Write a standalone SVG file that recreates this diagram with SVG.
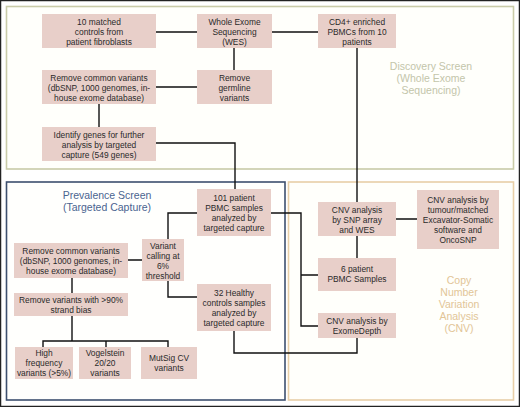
<svg xmlns="http://www.w3.org/2000/svg" width="520" height="407" viewBox="0 0 520 407">
<style>
.box{fill:#e8cfc9}
.t{font-family:"Liberation Sans",Arial,sans-serif;font-size:8.4px;fill:#2a2a2a;text-anchor:middle}
.c{fill:none;stroke:#111;stroke-width:1.4}
.ttl{font-family:"Liberation Sans",Arial,sans-serif;font-size:10.5px;text-anchor:middle}
</style>
<rect x="0.5" y="0.5" width="519" height="406" fill="#fff" stroke="#222" stroke-width="1.5"/>
<g id="panel-discovery">
<rect x="6.5" y="6.5" width="507" height="162.5" fill="#fffffb" stroke="#c9cba8" stroke-width="1.6"/>
<text class="ttl" fill="#c3c5aa" x="431" y="70">Discovery Screen</text>
<text class="ttl" fill="#c3c5aa" x="431" y="82">(Whole Exome</text>
<text class="ttl" fill="#c3c5aa" x="431" y="94">Sequencing)</text>
</g>
<g id="panel-prevalence">
<rect x="6.5" y="182" width="278.5" height="218" fill="#fffffd" stroke="#3d4f6e" stroke-width="1.6"/>
<text class="ttl" fill="#4a6490" x="107" y="199">Prevalence Screen</text>
<text class="ttl" fill="#4a6490" x="107" y="211">(Targeted Capture)</text>
</g>
<g id="panel-cnv">
<rect x="288.5" y="182" width="225" height="218" fill="#fffffb" stroke="#e8cfa8" stroke-width="1.6"/>
<text class="ttl" fill="#e2c597" x="459" y="284">Copy</text>
<text class="ttl" fill="#e2c597" x="459" y="296">Number</text>
<text class="ttl" fill="#e2c597" x="459" y="308">Variation</text>
<text class="ttl" fill="#e2c597" x="459" y="320">Analysis</text>
<text class="ttl" fill="#e2c597" x="459" y="332">(CNV)</text>
</g>
<g id="connectors">
<path class="c" d="M156 32H197M272 32H318M234 48V70M156 87H197M99 104V127M156 143H235V189M357 48V202M396 219H417M357 236V258"/>
<path class="c" d="M197 213H168V239M168 281V297H197M128 260H142M72 278V293M72 316V341M43 347V341H168V347M106 341V347"/>
<path class="c" d="M271 213H301V326H318M301 275H318M234 331V353H357V338"/>
</g>
<g id="n-controls"><rect class="box" x="42" y="14" width="114" height="34"/>
<text class="t" x="99" y="25">10 matched</text><text class="t" x="99" y="35">controls from</text><text class="t" x="99" y="45">patient fibroblasts</text></g>
<g id="n-wes"><rect class="box" x="197" y="14" width="75" height="34"/>
<text class="t" x="234.5" y="25">Whole Exome</text><text class="t" x="234.5" y="35">Sequencing</text><text class="t" x="234.5" y="45">(WES)</text></g>
<g id="n-cd4"><rect class="box" x="318" y="14" width="78" height="34"/>
<text class="t" x="357" y="25">CD4+ enriched</text><text class="t" x="357" y="35">PBMCs from 10</text><text class="t" x="357" y="45">patients</text></g>
<g id="n-remove-common-1"><rect class="box" x="42" y="70" width="114" height="34"/>
<text class="t" x="99" y="81">Remove common variants</text><text class="t" x="99" y="91">(dbSNP, 1000 genomes, in-</text><text class="t" x="99" y="101">house exome database)</text></g>
<g id="n-germline"><rect class="box" x="197" y="70" width="75" height="34"/>
<text class="t" x="234.5" y="81">Remove</text><text class="t" x="234.5" y="91">germline</text><text class="t" x="234.5" y="101">variants</text></g>
<g id="n-identify"><rect class="box" x="42" y="127" width="114" height="34"/>
<text class="t" x="99" y="138">Identify genes for further</text><text class="t" x="99" y="148">analysis by targeted</text><text class="t" x="99" y="158">capture (549 genes)</text></g>
<g id="n-101"><rect class="box" x="197" y="189" width="74" height="47"/>
<text class="t" x="234" y="201">101 patient</text><text class="t" x="234" y="211">PBMC samples</text><text class="t" x="234" y="221">analyzed by</text><text class="t" x="234" y="231">targeted capture</text></g>
<g id="n-variant-calling"><rect class="box" x="142" y="239" width="42" height="42"/>
<text class="t" x="163" y="249">Variant</text><text class="t" x="163" y="259">calling at</text><text class="t" x="163" y="269">6%</text><text class="t" x="163" y="279">threshold</text></g>
<g id="n-remove-common-2"><rect class="box" x="14" y="243" width="114" height="35"/>
<text class="t" x="71" y="254">Remove common variants</text><text class="t" x="71" y="264">(dbSNP, 1000 genomes, in-</text><text class="t" x="71" y="274">house exome database)</text></g>
<g id="n-strand"><rect class="box" x="14" y="293" width="114" height="23"/>
<text class="t" x="71" y="303">Remove variants with &gt;90%</text><text class="t" x="71" y="313">strand bias</text></g>
<g id="n-32"><rect class="box" x="197" y="284" width="74" height="47"/>
<text class="t" x="234" y="296">32 Healthy</text><text class="t" x="234" y="306">controls samples</text><text class="t" x="234" y="316">analyzed by</text><text class="t" x="234" y="326">targeted capture</text></g>
<g id="n-highfreq"><rect class="box" x="15" y="347" width="58" height="32"/>
<text class="t" x="44" y="356">High</text><text class="t" x="44" y="366">frequency</text><text class="t" x="44" y="376">variants (&gt;5%)</text></g>
<g id="n-vogelstein"><rect class="box" x="79" y="347" width="52" height="32"/>
<text class="t" x="105" y="356">Vogelstein</text><text class="t" x="105" y="366">20/20</text><text class="t" x="105" y="376">variants</text></g>
<g id="n-mutsig"><rect class="box" x="141" y="347" width="56" height="32"/>
<text class="t" x="169" y="361">MutSig CV</text><text class="t" x="169" y="371">variants</text></g>
<g id="n-cnv-snp"><rect class="box" x="318" y="202" width="78" height="34"/>
<text class="t" x="357" y="213">CNV analysis</text><text class="t" x="357" y="223">by SNP array</text><text class="t" x="357" y="233">and WES</text></g>
<g id="n-cnv-tumour"><rect class="box" x="417" y="190" width="82" height="59"/>
<text class="t" x="458" y="203">CNV analysis by</text><text class="t" x="458" y="213">tumour/matched</text><text class="t" x="458" y="223">Excavator-Somatic</text><text class="t" x="458" y="233">software and</text><text class="t" x="458" y="243">OncoSNP</text></g>
<g id="n-6"><rect class="box" x="318" y="258" width="78" height="33"/>
<text class="t" x="357" y="272">6 patient</text><text class="t" x="357" y="282">PBMC Samples</text></g>
<g id="n-exomedepth"><rect class="box" x="318" y="313" width="78" height="25"/>
<text class="t" x="357" y="324">CNV analysis by</text><text class="t" x="357" y="334">ExomeDepth</text></g>
</svg>
